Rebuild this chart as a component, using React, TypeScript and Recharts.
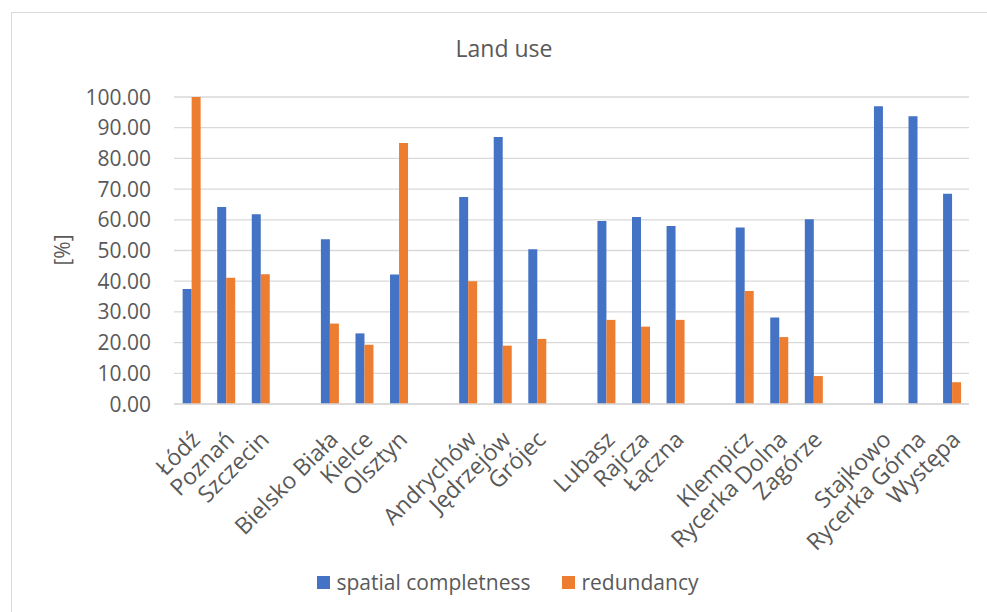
import { Bar, BarChart, CartesianGrid, Legend, XAxis, YAxis } from "recharts";

// Empty strings are spacer slots between the town groups.
const towns = [
  "Łódź", "Poznań", "Szczecin", "",
  "Bielsko Biała", "Kielce", "Olsztyn", "",
  "Andrychów", "Jędrzejów", "Grójec", "",
  "Lubasz", "Rajcza", "Łączna", "",
  "Klempicz", "Rycerka Dolna", "Zagórze", "",
  "Stajkowo", "Rycerka Górna", "Występa",
];

const completeness = [
  37.5, 64.2, 61.8, null,
  53.7, 23.0, 42.2, null,
  67.4, 87.0, 50.4, null,
  59.6, 60.9, 58.0, null,
  57.5, 28.2, 60.2, null,
  97.0, 93.7, 68.5,
];

const redundancy = [
  100.0, 41.1, 42.3, null,
  26.2, 19.3, 85.0, null,
  40.0, 19.0, 21.2, null,
  27.4, 25.2, 27.4, null,
  36.8, 21.8, 9.1, null,
  0, 0, 7.1,
];

const yTicks = [0, 10, 20, 30, 40, 50, 60, 70, 80, 90, 100];

const data = towns.map((name, i) => ({
  name,
  completeness: completeness[i],
  redundancy: redundancy[i],
}));

const FONT = "'Open Sans', sans-serif";
const TEXT = "#595959";
const BLUE = "#4472C4";
const ORANGE = "#ED7D31";

function XTick(props: any) {
  const { x, y, payload } = props;
  const ax = x + 10;
  const ay = y + 29;
  return (
    <text
      x={ax}
      y={ay}
      transform={`rotate(-45, ${ax}, ${ay})`}
      textAnchor="end"
      fontFamily={FONT}
      fontSize={23}
      fill={TEXT}
    >
      {payload.value}
    </text>
  );
}

function YTick(props: any) {
  const { y, payload } = props;
  return (
    <text x={151} y={y} dy={7.5} textAnchor="end" fontFamily={FONT} fontSize={21} fill={TEXT}>
      {Number(payload.value).toFixed(2)}
    </text>
  );
}

function LegendBox() {
  const items = [
    { label: "spatial completness", color: BLUE },
    { label: "redundancy", color: ORANGE },
  ];
  return (
    <div
      style={{
        display: "flex",
        justifyContent: "center",
        gap: 31,
        paddingLeft: 46,
        paddingTop: 20,
        fontFamily: FONT,
        fontSize: 21,
        color: TEXT,
      }}
    >
      {items.map((it) => (
        <div key={it.label} style={{ display: "flex", alignItems: "center" }}>
          <span style={{ width: 13, height: 13, background: it.color, marginRight: 7, display: "inline-block" }} />
          <span>{it.label}</span>
        </div>
      ))}
    </div>
  );
}

export default function App() {
  return (
    <div style={{ position: "absolute", left: 0, top: 0, width: 987, height: 612, overflow: "hidden", background: "#fff" }}>
      <div style={{ position: "absolute", left: 11, top: 12, width: 984, height: 620, border: "1.5px solid #d9d9d9" }} />
      <div style={{ position: "absolute", left: 11, width: 986, top: 32, textAlign: "center", fontFamily: FONT, fontSize: 23, color: TEXT }}>
        Land use
      </div>
      <div
        style={{
          position: "absolute",
          left: 62,
          top: 250,
          transform: "translate(-50%, -50%) rotate(-90deg)",
          fontFamily: FONT,
          fontSize: 21,
          color: TEXT,
        }}
      >
        [%]
      </div>
      <div style={{ position: "absolute", left: 0, top: 0 }}>
        <BarChart
          width={987}
          height={612}
          data={data}
          margin={{ top: 97, right: 18, left: 0, bottom: 0 }}
          barCategoryGap="25%"
          barGap={0}
        >
          <CartesianGrid vertical={false} stroke="#d9d9d9" strokeWidth={1.3} />
          <XAxis
            dataKey="name"
            interval={0}
            tickLine={false}
            axisLine={{ stroke: "#d9d9d9", strokeWidth: 1.3 }}
            tick={<XTick />}
            height={144}
          />
          <YAxis
            domain={[0, 100]}
            ticks={yTicks}
            width={174}
            tickLine={false}
            axisLine={false}
            tick={<YTick />}
          />
          <Legend verticalAlign="bottom" height={64} content={<LegendBox />} />
          <Bar dataKey="completeness" fill={BLUE} isAnimationActive={false} />
          <Bar dataKey="redundancy" fill={ORANGE} isAnimationActive={false} />
        </BarChart>
      </div>
    </div>
  );
}
